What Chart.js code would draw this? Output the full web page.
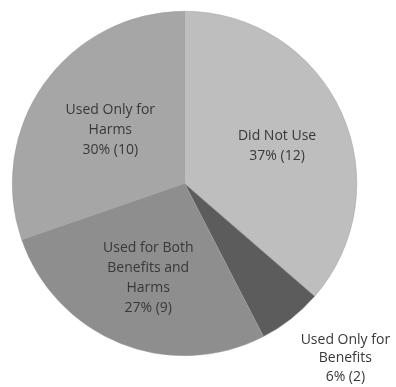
<!DOCTYPE html>
<html>
<head>
<meta charset="utf-8">
<script src="https://cdn.jsdelivr.net/npm/chart.js@4/dist/chart.umd.min.js"></script>
<style>
  html, body { margin: 0; padding: 0; background: #fff; }
  #wrap { width: 396px; height: 387px; }
</style>
</head>
<body>
<div id="wrap"><canvas id="chart"></canvas></div>
<script>
const categories = ['Did Not Use', 'Used Only for Benefits', 'Used for Both Benefits and Harms', 'Used Only for Harms'];
const counts = [12, 2, 9, 10];
const percents = ['37%', '6%', '27%', '30%'];
const labelLines = [
  ['Did Not Use'],
  ['Used Only for', 'Benefits'],
  ['Used for Both', 'Benefits and', 'Harms'],
  ['Used Only for', 'Harms']
];
const colors = ['#bebebe', '#5c5c5c', '#8e8e8e', '#a6a6a6'];
// where each label sits: share of radius, and a small turn off the slice middle (radians)
const labelRadius = [0.58, 1.38, 0.59, 0.53];
const labelTurn = [0.043, -0.077, -0.016, 0.003];

const sliceLabels = {
  id: 'sliceLabels',
  afterDatasetsDraw(chart) {
    const c = chart.ctx;
    const meta = chart.getDatasetMeta(0);
    c.save();
    c.font = '14px "Open Sans"';
    c.fillStyle = '#383838';
    c.textAlign = 'center';
    c.textBaseline = 'middle';
    meta.data.forEach((arc, i) => {
      const p = arc.getProps(['x', 'y', 'startAngle', 'endAngle', 'outerRadius'], true);
      const mid = (p.startAngle + p.endAngle) / 2 + labelTurn[i];
      const r = p.outerRadius * labelRadius[i];
      const cx = p.x + Math.cos(mid) * r;
      const cy = p.y + Math.sin(mid) * r;
      const lines = labelLines[i].concat([percents[i] + ' (' + counts[i] + ')']);
      const lh = i === 1 ? 18.5 : 20;
      const top = cy - (lines.length - 1) * lh / 2;
      lines.forEach((t, j) => c.fillText(t, cx, top + j * lh));
    });
    c.restore();
  }
};

new Chart(document.getElementById('chart'), {
  type: 'pie',
  data: {
    labels: categories,
    datasets: [{
      data: counts,
      backgroundColor: colors,
      borderColor: '#9a9a9a',
      borderWidth: 0.5
    }]
  },
  options: {
    responsive: true,
    maintainAspectRatio: false,
    animation: false,
    layout: { padding: { left: 12, right: 39, top: 10, bottom: 30 } },
    plugins: {
      legend: { display: false },
      tooltip: { enabled: false }
    }
  },
  plugins: [sliceLabels]
});
</script>
</body>
</html>
